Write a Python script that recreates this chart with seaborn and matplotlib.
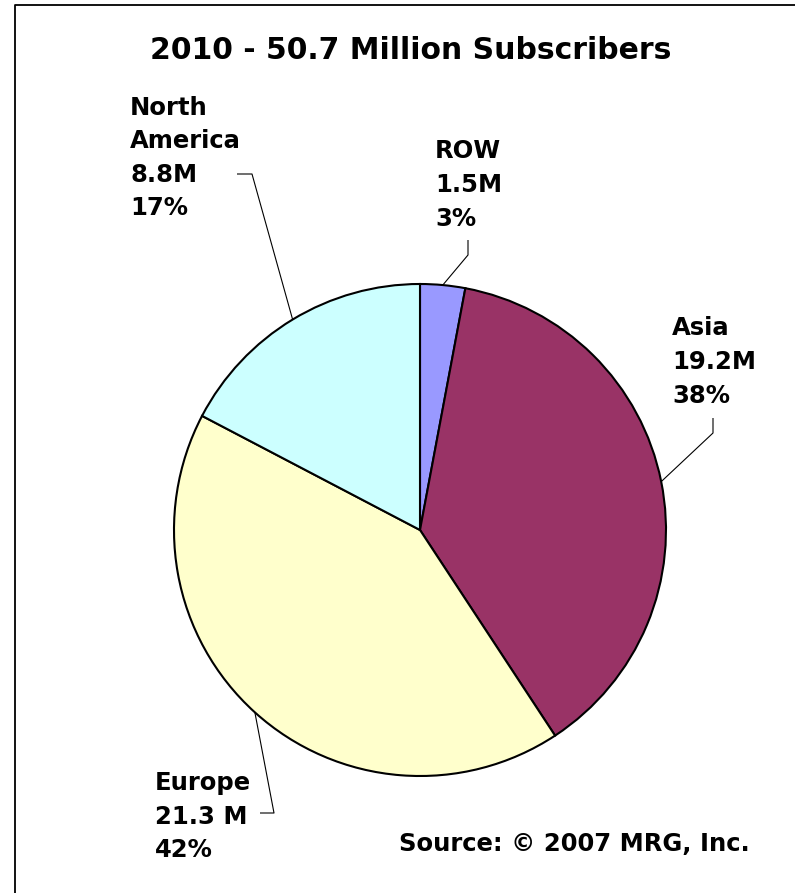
import numpy as np
import matplotlib
matplotlib.use("Agg")
import matplotlib.pyplot as plt
import seaborn as sns

# Subscriber forecast for 2010, by region (millions)
regions = ["ROW", "Asia", "Europe", "North\nAmerica"]
subscribers = [1.5, 19.2, 21.3, 8.8]
value_labels = ["1.5M", "19.2M", "21.3 M", "8.8M"]
slice_colors = ["#9999FF", "#993366", "#FFFFCC", "#CCFFFF"]
title_text = "2010 - 50.7 Million Subscribers"
source_text = "Source: \u00a9 2007 MRG, Inc."

sns.set_theme(style="white")
plt.rcParams["font.family"] = ["DejaVu Sans"]

W, H = 795, 893
fig = plt.figure(figsize=(W / 100, H / 100), dpi=100)
ax = fig.add_axes([0, 0, 1, 1])


def up(y):
    """Convert a top-down pixel row to the axes' upward y coordinate."""
    return H - y


cx, cy, r = 420, 530, 246
wedges, _ = ax.pie(
    subscribers,
    colors=slice_colors,
    startangle=90,
    counterclock=False,
    center=(cx, up(cy)),
    radius=r,
    wedgeprops=dict(edgecolor="black", linewidth=1.5),
)
ax.set_xlim(0, W)
ax.set_ylim(0, H)
ax.axis("off")

total = sum(subscribers)
pct_labels = [f"{round(v / total * 100)}%" for v in subscribers]

# label block: left x, baseline of first line, line step (pixels, top-down)
label_pos = [(435, 158, 34), (672, 335, 34), (155, 790, 33.5), (130, 115, 33.4)]
# leader path start points (elbow segment) in pixels, top-down
leader_start = [
    [(468, 240), (468, 255)],
    [(713, 418), (713, 433)],
    [(260, 813), (274, 813)],
    [(237, 174), (252, 174)],
]

fs = 17.5
for i, w in enumerate(wedges):
    lines = regions[i].split("\n") + [value_labels[i], pct_labels[i]]
    x0, b0, step = label_pos[i]
    for k, line in enumerate(lines):
        ax.text(x0, up(b0 + k * step), line, fontsize=fs, fontweight="bold",
                ha="left", va="baseline", color="black")
    mid = np.deg2rad((w.theta1 + w.theta2) / 2)
    ax_pt = (cx + r * np.cos(mid), up(cy) + r * np.sin(mid))
    pts = [(p[0], up(p[1])) for p in leader_start[i]] + [ax_pt]
    xs, ys = zip(*pts)
    ax.plot(xs, ys, color="black", linewidth=0.8, solid_capstyle="butt")

ax.text(411, up(59), title_text, fontsize=21.5, fontweight="bold",
        ha="center", va="baseline", color="black")
ax.text(750, up(851), source_text, fontsize=17.5, fontweight="bold",
        ha="right", va="baseline", color="black")

# chart frame (left and top edges)
ax.plot([15, 15, W + 5], [up(H + 5), up(5), up(5)], color="black",
        linewidth=1.3, clip_on=False)

fig.savefig("out.png", dpi=100, facecolor="white")
